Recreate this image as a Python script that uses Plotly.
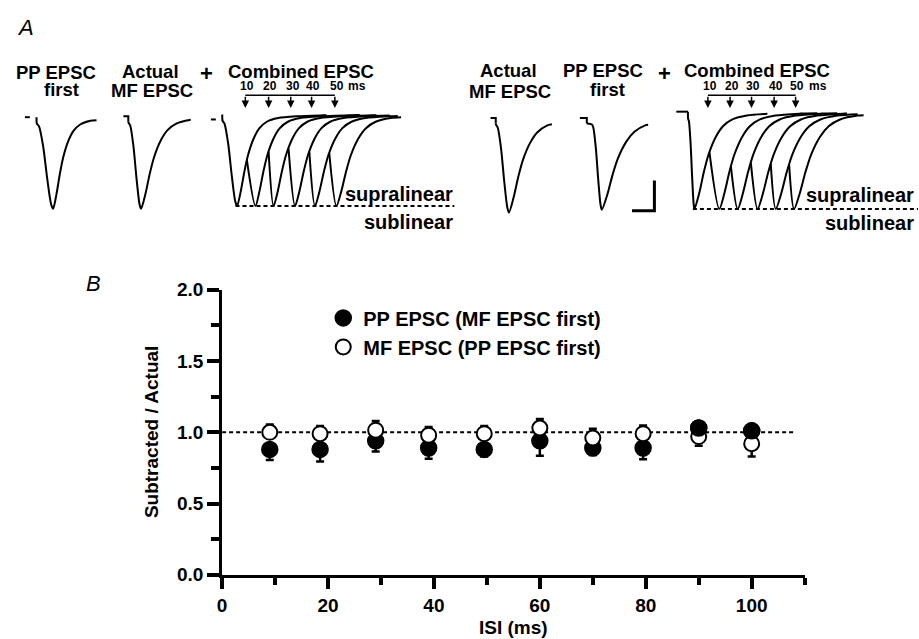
import numpy as np
import plotly.graph_objects as go

FONT = "Liberation Sans, Arial, sans-serif"
W, H = 919, 639

# ---------------- Panel B data ----------------
ISI_MS = [9, 18.5, 29, 39, 49.5, 60, 70, 79.5, 90, 100]
PP_RATIO = [0.88, 0.88, 0.94, 0.89, 0.88, 0.94, 0.89, 0.89, 1.03, 1.01]
PP_ERR_UP = [0, 0, 0, 0, 0, 0, 0, 0, 0.03, 0.03]
PP_ERR_DOWN = [0.075, 0.085, 0.075, 0.075, 0.05, 0.105, 0.05, 0.08, 0, 0]
MF_RATIO = [1.0, 0.99, 1.015, 0.98, 0.99, 1.03, 0.96, 0.99, 0.97, 0.92]
MF_ERR_UP = [0.055, 0.055, 0.065, 0.058, 0.055, 0.063, 0.065, 0.058, 0, 0]
MF_ERR_DOWN = [0, 0, 0, 0, 0, 0, 0, 0, 0.065, 0.09]
LINEAR_LEVEL = 1.0
X_TICKS = [0, 20, 40, 60, 80, 100]
Y_TICKS = [0.0, 0.5, 1.0, 1.5, 2.0]

# ---------------- Panel A data (time in ms, amplitude normalised) ----------------
RISE_U = [0, 0.02, 0.15, 0.4, 0.65, 0.88, 1.0]
RISE_F = [0, 0.07, 0.10, 0.32, 0.68, 0.95, 1.0]
DECAY_T = [0, 1.5, 3.0, 4.5, 6.8, 9.1, 12.1, 16.7, 24.2, 34.8, 50.0]
DECAY_F = [1.0, 0.84, 0.62, 0.44, 0.26, 0.15, 0.08, 0.04, 0.02, 0.01, 0.0]

SINGLE_STUB_START = [8.9, 52.9, 217.0, 256.9]
SINGLE_STUB_END = [11.1, 55.1, 219.3, 260.0]
SINGLE_CONNECTED = [False, True, True, True]
SINGLE_ONSET = [14.1, 55.1, 219.3, 262.2]
SINGLE_PEAK = [21.5, 60.8, 225.2, 266.7]
SINGLE_END = [40.9, 83.0, 244.4, 287.4]
SINGLE_AMP = [1.0, 1.01, 1.03, 1.0]
SINGLE_BASE = [0.0, 0.01, -0.01, -0.01]
SINGLE_STRETCH = [1.0, 1.3, 1.4, 1.6]

COMB_STUB_START = [92.0, 300.0]
COMB_STUB_END = [94.2, 305.2]
COMB_STUB_Y = [-0.025, 0.06]
COMB_ONSET = [97.1, 305.2]
COMB_PEAK = [103.7, 308.1]
COMB_AMP = [1.0, 1.063]
COMB_BASE = [0.03, 0.06]
MF_ONSET = [[108.1, 117.8, 126.7, 136.0, 144.9],
            [314.8, 324.4, 333.3, 342.2, 350.4]]
MF_PEAK = [[111.9, 120.0, 129.6, 138.5, 148.1],
           [319.2, 327.4, 336.3, 344.4, 352.6]]
SWEEP_END = [[143.7, 158.5, 165.9, 171.9, 175.5, 177.0],
             [340.7, 363.0, 371.9, 376.3, 381.0, 383.7]]
SWEEP_STRETCH = [[1.1, 1.2, 1.25, 1.3, 1.35, 1.45],
                 [1.4, 1.5, 1.55, 1.6, 1.65, 1.7]]
ARROW_T = [[107.4, 117.8, 127.7, 137.0, 147.4],
           [314.1, 324.0, 333.6, 343.7, 353.3]]
DELAY_LABELS = ["10", "20", "30", "40", "50"]
DASH_SPAN = [(103.0, 200.8), (307.4, 408.0)]
SCALE_MS = 10
SCALE_AMP = 0.33

# ---------------- geometry (target pixel positions) ----------------
TOP_OFF, EFF_H = 8.4, 620.5      # observed placement of the drawing in the page
PX_PER_MS = 2.25
A_BASE_PX = 116.0
A_PX_PER_UNIT = 92.0
B_X0, B_X1 = 218.3, 804.0
B_Y0, B_Y1 = 575.5, 289.3


def px(xp):
    return xp / W


def py(yp):
    return 1 - (yp - TOP_OFF) / EFF_H


def rise_pts(onset, peak, base, amp):
    return ([onset + u * (peak - onset) for u in RISE_U],
            [base - amp * f for f in RISE_F])


def decay_pts(peak, end, base, amp, stretch):
    ts, ys = [], []
    for dt, f in zip(DECAY_T, DECAY_F):
        t = peak + dt * stretch
        if t >= end:
            fe = float(np.interp((end - peak) / stretch, DECAY_T, DECAY_F))
            ts.append(end)
            ys.append(base - amp * fe)
            break
        ts.append(t)
        ys.append(base - amp * f)
    return ts, ys


fig = go.Figure()
TR = dict(mode="lines", line=dict(color="black", width=2, shape="spline", smoothing=0.8),
          xaxis="x2", yaxis="y2", showlegend=False, hoverinfo="skip")
STUB = dict(mode="lines", line=dict(color="black", width=2),
            xaxis="x2", yaxis="y2", showlegend=False, hoverinfo="skip")

for i in range(len(SINGLE_ONSET)):
    b, a = SINGLE_BASE[i], SINGLE_AMP[i]
    rt, ry = rise_pts(SINGLE_ONSET[i], SINGLE_PEAK[i], b, a)
    dt, dy = decay_pts(SINGLE_PEAK[i], SINGLE_END[i], b, a, SINGLE_STRETCH[i])
    sx = [SINGLE_STUB_START[i], SINGLE_STUB_END[i]]
    sy = [b, b]
    if SINGLE_CONNECTED[i]:
        fig.add_trace(go.Scatter(x=sx + [SINGLE_STUB_END[i]], y=sy + [b - 0.06], **STUB))
        fig.add_trace(go.Scatter(x=[SINGLE_STUB_END[i]] + rt[1:] + dt[1:],
                                 y=[b - 0.06] + ry[1:] + dy[1:], **TR))
    else:
        fig.add_trace(go.Scatter(x=sx, y=sy, **STUB))
        fig.add_trace(go.Scatter(x=rt + dt[1:], y=ry + dy[1:], **TR))

for g in range(2):
    b, a = COMB_BASE[g], COMB_AMP[g]
    fig.add_trace(go.Scatter(x=[COMB_STUB_START[g], COMB_STUB_END[g]],
                             y=[COMB_STUB_Y[g], COMB_STUB_Y[g]], **STUB))
    rt, ry = rise_pts(COMB_ONSET[g], COMB_PEAK[g], b, a)
    dt, dy = decay_pts(COMB_PEAK[g], SWEEP_END[g][0], b, a, SWEEP_STRETCH[g][0])
    fig.add_trace(go.Scatter(x=rt + dt[1:], y=ry + dy[1:], **TR))
    prev_peak, prev_st = COMB_PEAK[g], SWEEP_STRETCH[g][0]
    for k in range(5):
        mo, mp = MF_ONSET[g][k], MF_PEAK[g][k]
        f0 = float(np.interp((mo - prev_peak) / prev_st, DECAY_T, DECAY_F))
        dt, dy = decay_pts(mp, SWEEP_END[g][k + 1], b, a, SWEEP_STRETCH[g][k + 1])
        fig.add_trace(go.Scatter(x=[mo] + dt, y=[b - a * f0] + dy, **TR))
        prev_peak, prev_st = mp, SWEEP_STRETCH[g][k + 1]
    fig.add_trace(go.Scatter(x=list(DASH_SPAN[g]), y=[b - a, b - a], mode="lines",
                             line=dict(color="black", width=2, dash="4px,3px"),
                             xaxis="x2", yaxis="y2", showlegend=False, hoverinfo="skip"))

SB_X, SB_Y = 290.2, -1.022
fig.add_trace(go.Scatter(x=[SB_X - SCALE_MS, SB_X, SB_X], y=[SB_Y, SB_Y, SB_Y + SCALE_AMP],
                         mode="lines", line=dict(color="black", width=3),
                         xaxis="x2", yaxis="y2", showlegend=False, hoverinfo="skip"))

annotations = []
ARROW_TOP, ARROW_TIP, LABEL_Y = 0.239, 0.10, 0.337
for g in range(2):
    at = ARROW_T[g]
    fig.add_trace(go.Scatter(x=[at[0], at[-1]], y=[ARROW_TOP, ARROW_TOP], mode="lines",
                             line=dict(color="black", width=1.5),
                             xaxis="x2", yaxis="y2", showlegend=False, hoverinfo="skip"))
    for t, lab in zip(at, DELAY_LABELS):
        annotations.append(dict(x=t, y=ARROW_TIP, ax=t, ay=ARROW_TOP, xref="x2", yref="y2",
                                axref="x2", ayref="y2", text="", showarrow=True,
                                arrowhead=2, arrowsize=1, arrowwidth=1.5, arrowcolor="black"))
        annotations.append(dict(x=t + 0.8, y=LABEL_Y, xref="x2", yref="y2", text=lab,
                                showarrow=False, font=dict(family=FONT, size=12, color="black",
                                                           weight="bold")))
    annotations.append(dict(x=at[-1] + 10, y=LABEL_Y, xref="x2", yref="y2", text="ms",
                            showarrow=False, font=dict(family=FONT, size=12, color="black",
                                                       weight="bold")))

fig.add_trace(go.Scatter(x=[0, 108], y=[LINEAR_LEVEL, LINEAR_LEVEL], mode="lines",
                         line=dict(color="black", width=2, dash="4px,3px"),
                         showlegend=False, hoverinfo="skip"))
fig.add_trace(go.Scatter(
    x=ISI_MS, y=PP_RATIO, mode="markers", name="PP EPSC (MF EPSC first)",
    marker=dict(symbol="circle", size=16, color="black", line=dict(color="black", width=1.5)),
    error_y=dict(type="data", symmetric=False, array=PP_ERR_UP, arrayminus=PP_ERR_DOWN,
                 color="black", thickness=2.5, width=4)))
fig.add_trace(go.Scatter(
    x=ISI_MS, y=MF_RATIO, mode="markers", name="MF EPSC (PP EPSC first)",
    marker=dict(symbol="circle", size=15, color="white", line=dict(color="black", width=2)),
    error_y=dict(type="data", symmetric=False, array=MF_ERR_UP, arrayminus=MF_ERR_DOWN,
                 color="black", thickness=2.5, width=4)))
fig.add_trace(go.Scatter(
    x=ISI_MS[8:], y=PP_RATIO[8:], mode="markers", showlegend=False, hoverinfo="skip",
    marker=dict(symbol="circle", size=16, color="black", line=dict(color="black", width=1.5))))

TXT = lambda s: dict(family=FONT, size=s, color="black", weight="bold")
labels = [
    ("PP EPSC", 51, 71.5, 18.5), ("first", 57, 88.5, 18.5),
    ("Actual", 146, 70, 18.5), ("MF EPSC", 148, 89.5, 18.5),
    ("+", 203, 72, 22), ("Combined EPSC", 298, 70, 18.5),
    ("Actual", 506, 69, 18.5), ("MF EPSC", 508, 90, 18.5),
    ("PP EPSC", 601, 69, 18.5), ("first", 606, 88, 18.5),
    ("+", 663, 72, 22), ("Combined EPSC", 756, 69, 18.5),
]
for t, xx, yy, s in labels:
    annotations.append(dict(x=px(xx), y=py(yy), xref="paper", yref="paper", text=t,
                            showarrow=False, font=TXT(s), xanchor="center", yanchor="middle"))
for t, xr, yy in [("supralinear", 452, 193), ("sublinear", 452, 221),
                  ("supralinear", 916, 194), ("sublinear", 916, 222)]:
    annotations.append(dict(x=px(xr), y=py(yy), xref="paper", yref="paper", text=t,
                            showarrow=False, font=TXT(20), xanchor="right", yanchor="middle"))
annotations.append(dict(x=px(21), y=py(26), xref="paper", yref="paper", text="<i>A</i>",
                        showarrow=False, font=dict(family=FONT, size=22, color="black"),
                        xanchor="center", yanchor="middle"))
annotations.append(dict(x=px(88.5), y=py(283.5), xref="paper", yref="paper", text="<i>B</i>",
                        showarrow=False, font=dict(family=FONT, size=22, color="black"),
                        xanchor="center", yanchor="middle"))
annotations.append(dict(x=px(148), y=py(432), xref="paper", yref="paper",
                        text="Subtracted / Actual", textangle=-90, showarrow=False,
                        font=TXT(19), xanchor="center", yanchor="middle"))
annotations.append(dict(x=px(511.5), y=py(628.5), xref="paper", yref="paper",
                        text="ISI (ms)", showarrow=False, font=TXT(19),
                        xanchor="center", yanchor="middle"))

A_TOP_VAL = (A_BASE_PX - TOP_OFF) / A_PX_PER_UNIT
A_BOT_VAL = -(TOP_OFF + EFF_H - A_BASE_PX) / A_PX_PER_UNIT

fig.update_layout(
    width=W, height=H, margin=dict(l=0, r=0, t=0, b=0, pad=0),
    paper_bgcolor="white", plot_bgcolor="rgba(0,0,0,0)",
    font=dict(family=FONT, color="black"),
    annotations=annotations,
    showlegend=True,
    legend=dict(x=px(320), y=py(298), xanchor="left", yanchor="top",
                bgcolor="rgba(0,0,0,0)", font=TXT(20), tracegroupgap=0,
                itemsizing="trace"),
    xaxis=dict(domain=[px(B_X0), px(B_X1)], range=[0, 110], anchor="y",
               tickvals=X_TICKS, ticks="outside", ticklen=11, tickwidth=4,
               tickcolor="black", showline=True, linewidth=3, linecolor="black",
               showgrid=False, zeroline=False, tickfont=TXT(19),
               minor=dict(dtick=10, ticks="outside", ticklen=7, tickwidth=4,
                          tickcolor="black", showgrid=False)),
    yaxis=dict(domain=[py(B_Y0), py(B_Y1)], range=[0, 2], anchor="x",
               tickvals=Y_TICKS, tickformat=".1f", ticks="outside", ticklen=12,
               tickwidth=4, tickcolor="black", showline=True, linewidth=3,
               linecolor="black", showgrid=False, zeroline=False, tickfont=TXT(19),
               minor=dict(dtick=0.25, ticks="outside", ticklen=8, tickwidth=4,
                          tickcolor="black", showgrid=False)),
    xaxis2=dict(domain=[0, 1], range=[0, W / PX_PER_MS], anchor="y2", visible=False,
                fixedrange=True),
    yaxis2=dict(domain=[0, 1], range=[A_BOT_VAL, A_TOP_VAL],
                anchor="x2", visible=False, fixedrange=True),
)

fig.write_html("out.html", config={"displayModeBar": False},
               post_script="document.body.style.margin='0';"
                           "document.body.style.overflow='hidden';")
